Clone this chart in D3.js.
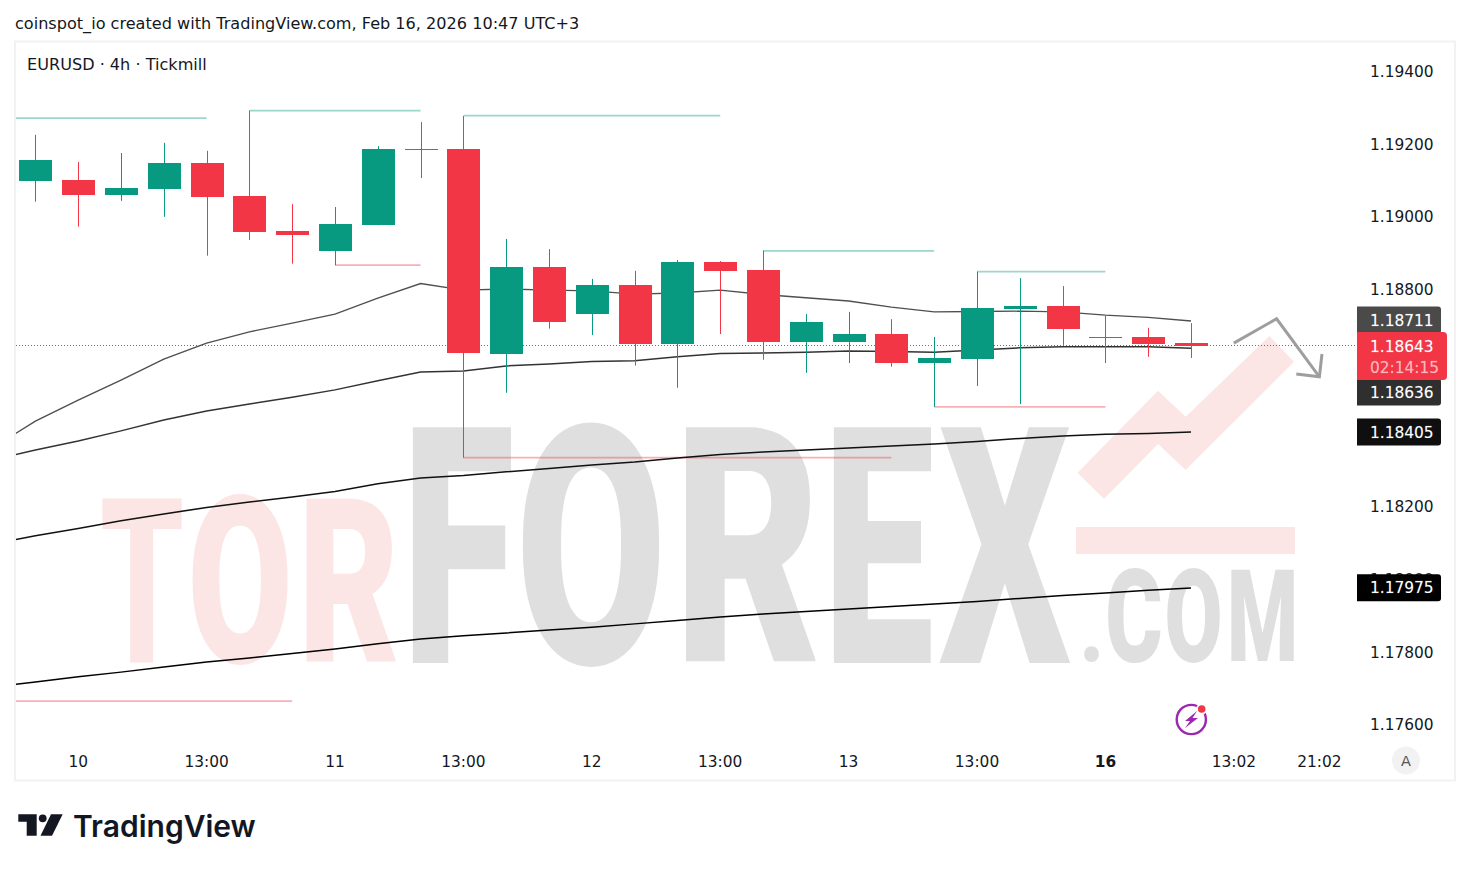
<!DOCTYPE html>
<html><head><meta charset="utf-8">
<script src="https://cdn.jsdelivr.net/npm/d3@7/dist/d3.min.js"></script>
<style>html,body{margin:0;padding:0;background:#fff}svg{display:block}</style>
</head><body><div id="chart"></div>
<script>
// ---------- data (prices x 1e5, per 4h candle) ----------
const opens  = [119097,119100,119058,119075,119146,119055,118959,118904,118975,119185,119185,118620,118860,118730,118810,118648,118874,118851,118653,118653,118675,118595,118606,118744,118752,118667,118667,118650];
const highs  = [119224,119149,119174,119202,119180,119291,119033,119025,119193,119259,119276,118937,118909,118827,118849,118879,118876,118905,118730,118736,118716,118667,118847,118829,118807,118725,118692,118705];
const lows   = [119040,118971,119042,118998,118891,118934,118869,118865,118975,119105,118334,118513,118690,118672,118588,118527,118675,118604,118568,118595,118585,118474,118532,118482,118645,118595,118612,118609];
const closes = [119155,119058,119077,119146,119053,118956,118948,118978,119185,119181,118623,118860,118708,118810,118648,118874,118849,118653,118708,118675,118595,118609,118747,118752,118689,118663,118648,118643];
// moving averages, first value is one bar before the first candle
const maA = [118361,118435,118493,118548,118606,118650,118681,118705,118730,118774,118814,118796,118799,118796,118794,118785,118788,118796,118784,118775,118766,118749,118736,118737,118738,118736,118727,118721,118711];
const maB = [118328,118355,118380,118408,118438,118463,118482,118501,118521,118546,118570,118573,118587,118592,118599,118601,118612,118621,118623,118625,118628,118627,118625,118631,118637,118640,118640,118640,118636];
const maC = [118096,118119,118139,118160,118179,118197,118212,118226,118241,118262,118278,118285,118295,118304,118314,118322,118333,118343,118350,118355,118361,118366,118372,118379,118387,118394,118399,118401,118405];
const maD = [117702,117716,117730,117743,117757,117771,117782,117794,117807,117821,117834,117843,117851,117859,117867,117876,117885,117895,117903,117910,117917,117924,117931,117938,117946,117954,117961,117969,117975];
// swing levels
const levelFrom  = [-1,5,10,17,22,7,10,21,-1];
const levelTo    = [4,9,16,21,25,9,20,25,6];
const levelPrice = [119270,119291,119277,118904,118847,118865,118334,118474,117663];
const levelKind  = ["h","h","h","h","h","l","l","l","l"];
// axes
const priceTicks = [1.194,1.192,1.19,1.188,1.182,1.18,1.178,1.176];
const timeTickIndex = [1,4,7,10,13,16,19,22,25,28,30];
const timeTickLabel = ["10","13:00","11","13:00","12","13:00","13","13:00","16","13:02","21:02"];
const lastPrice = 118643;
const maLabels = [118711,118636,118405,117975];
// drawn arrow (bar index, price)
const arrowIdx = [28,29,30], arrowPrice = [118650,118717,118557];
const headIdx = [29.46,30,30.06], headPrice = [118565,118557,118620];

const W=1470,H=871,FONT='"DejaVu Sans",sans-serif';
const GREEN='#089981',RED='#f23645';
const svg=d3.select('#chart').append('svg').attr('width',W).attr('height',H);
const x=d3.scaleLinear().domain([0,27]).range([35.4,1191]);
const y=d3.scaleLinear().domain([1.176,1.194]).range([724,71]);
const Y=v=>y(v/1e5);

// frame
svg.append('rect').attr('x',15).attr('y',41.5).attr('width',1440).attr('height',739).attr('fill','#fff').attr('stroke','#f2f2f2').attr('stroke-width',2);

// ---------- watermark ----------
const cv=document.createElement('canvas').getContext('2d');
const wm=svg.append('g');
function fit(ch,x0,x1,y0,y1,fill){
  cv.font='900 200px Roboto';const m=cv.measureText(ch);
  const iw=m.actualBoundingBoxRight+m.actualBoundingBoxLeft,ih=m.actualBoundingBoxAscent+m.actualBoundingBoxDescent;
  const sx=(x1-x0)/iw,sy=(y1-y0)/ih;
  wm.append('text').text(ch).attr('font-family','Roboto').attr('font-weight',900).attr('font-size',200).attr('fill',fill)
    .attr('transform',`translate(${x0+m.actualBoundingBoxLeft*sx},${y1-m.actualBoundingBoxDescent*sy}) scale(${sx},${sy})`);
}
const wmPink='#fbe6e5',wmGray='#dfdfdf';
fit('T',102,182,497,662,wmPink);fit('O',192,288,493,665,wmPink);fit('R',306,396,497,662,wmPink);
fit('F',412,511,426,663,wmGray);fit('O',522,660,421,667,wmGray);fit('R',685,816,426,663,wmGray);fit('E',833,931,426,663,wmGray);fit('X',939,1071,426,663,wmGray);
fit('.',1084,1099,645,661,wmGray);fit('C',1108,1161,568,663,wmGray);fit('O',1167,1220,568,663,wmGray);fit('M',1231,1294,569,661,wmGray);
wm.append('polygon').attr('fill',wmPink).attr('points','1077.5,472.7 1158,390.7 1185.7,416.7 1269.4,336 1294,361.7 1185.7,470 1158,444 1104,499');
wm.append('rect').attr('fill',wmPink).attr('x',1076).attr('y',527).attr('width',219).attr('height',27);

// ---------- plot ----------
svg.append('clipPath').attr('id','pane').append('rect').attr('x',16).attr('y',42).attr('width',1340).attr('height',710);
const pane=svg.append('g').attr('clip-path','url(#pane)');
// levels
levelPrice.forEach((p,i)=>{
  pane.append('line').attr('x1',x(levelFrom[i])).attr('x2',x(levelTo[i])).attr('y1',Y(p)).attr('y2',Y(p))
   .attr('stroke',levelKind[i]=='h'?GREEN:RED).attr('stroke-opacity',0.4).attr('stroke-width',1.7);
});
// last price
const lpY=Math.floor(Y(lastPrice))+.5;
pane.append('line').attr('x1',16).attr('x2',1356).attr('y1',lpY).attr('y2',lpY)
  .attr('stroke',RED).attr('stroke-width',1).attr('stroke-dasharray','1 2');
// moving averages
const line=d3.line().x((d,i)=>x(i-1)).y(d=>Y(d));
[[maA,'#4f4f4f',1.4],[maB,'#333',1.5],[maC,'#111',1.5],[maD,'#000',1.5]].forEach(([d,c,w])=>{
  pane.append('path').datum(d).attr('d',line).attr('fill','none').attr('stroke',c).attr('stroke-width',w);
});
// candles
const cg=pane.append('g');
opens.forEach((o,i)=>{
  const c=closes[i],col=c>=o?GREEN:RED,cx=Math.round(x(i));
  const top=Math.round(Y(Math.max(o,c))),bot=Math.round(Y(Math.min(o,c)));
  cg.append('rect').attr('x',cx).attr('width',1).attr('y',Y(highs[i])).attr('height',Y(lows[i])-Y(highs[i])).attr('fill',col);
  cg.append('rect').attr('x',cx-16).attr('width',33).attr('y',top).attr('height',Math.max(1,bot-top)).attr('fill',col);
});
// arrow
const al=d3.line().x(d=>x(d[0])).y(d=>Y(d[1]));
[[arrowIdx,arrowPrice],[headIdx,headPrice]].forEach(([a,b])=>{
  pane.append('path').attr('d',al(a.map((v,i)=>[v,b[i]]))).attr('fill','none').attr('stroke','#9e9e9e').attr('stroke-width',3).attr('stroke-linejoin','miter');
});

// ---------- axes ----------
const ya=d3.axisRight(y).tickValues(priceTicks).tickSize(0).tickPadding(0).tickFormat(d3.format('.5f'));
const yg=svg.append('g').attr('transform','translate(1370,0.7)').call(ya);
yg.select('.domain').remove();
yg.selectAll('text').attr('font-family',FONT).attr('font-size',15.4).attr('fill','#131722');
const xa=d3.axisBottom(x).tickValues(timeTickIndex).tickSize(0).tickPadding(0).tickFormat((d,i)=>timeTickLabel[i]);
const xg=svg.append('g').attr('transform','translate(-0.5,756)').call(xa);
xg.select('.domain').remove();
xg.selectAll('text').attr('font-family',FONT).attr('font-size',15.4).attr('fill','#131722')
  .attr('font-weight',d=>d===25?'bold':'normal');

// price labels (square on the left, rounded on the right)
function tag(x0,y0,w,h,r,fill){
  svg.append('path').attr('fill',fill).attr('d',`M${x0} ${y0}H${x0+w-r}Q${x0+w} ${y0} ${x0+w} ${y0+r}V${y0+h-r}Q${x0+w} ${y0+h} ${x0+w-r} ${y0+h}H${x0}Z`);
}
const labCol=['#4a4a4a','#2f2f2f','#0f0f0f','#000000'],labY=[320,392,432,587.8];
const lt=(s,yy,op)=>svg.append('text').text(s).attr('x',1370).attr('y',yy).attr('font-family',FONT).attr('font-size',15.4).attr('font-weight',500).attr('fill','#fff').attr('fill-opacity',op||1).attr('stroke','#fff').attr('stroke-opacity',(op||1)*0.35).attr('stroke-width',0.35);
maLabels.forEach((v,i)=>{
  tag(1357,labY[i]-13.5,84,27,3,labCol[i]);
  lt((v/1e5).toFixed(5),labY[i]+5.5);
});
tag(1357,332,90,48,4,RED);
lt((lastPrice/1e5).toFixed(5),351.5);
lt('02:14:15',372.5,0.65);

// A button
svg.append('circle').attr('cx',1406).attr('cy',760.5).attr('r',14).attr('fill','#f2f2f2');
svg.append('text').text('A').attr('x',1406).attr('y',766).attr('text-anchor','middle').attr('font-family',FONT).attr('font-size',14.5).attr('fill','#555');

// bolt icon
svg.append('circle').attr('cx',1191.3).attr('cy',719.5).attr('r',14.6).attr('fill','none').attr('stroke','#9c27b0').attr('stroke-width',2.4);
svg.append('polygon').attr('points','1197,711 1185,721 1190,721 1185,728 1198,718 1192.5,718').attr('fill','#9c27b0');
svg.append('circle').attr('cx',1201.7).attr('cy',709).attr('r',5.5).attr('fill','#fff');
svg.append('circle').attr('cx',1201.7).attr('cy',709).attr('r',3.8).attr('fill',RED);

// titles
svg.append('text').text('coinspot_io created with TradingView.com, Feb 16, 2026 10:47 UTC+3').attr('x',15).attr('y',29).attr('font-family',FONT).attr('font-size',16.1).attr('fill','#131722');
svg.append('text').text('EURUSD · 4h · Tickmill').attr('x',27).attr('y',70).attr('font-family',FONT).attr('font-size',16.1).attr('fill','#131722');

// TradingView logo
const lg=svg.append('g').attr('fill','#131722');
lg.append('path').attr('d','M18.3 814.3H36.7V835.7H26.7V821.7H18.3Z');
lg.append('circle').attr('cx',42.7).attr('cy',818.3).attr('r',3.9);
lg.append('path').attr('d','M51 814.3H62.7L52 835.7H40.5Z');
svg.append('text').text('TradingView').attr('x',73).attr('y',837).attr('font-family','Inter,sans-serif').attr('font-weight',600).attr('font-size',30).attr('fill','#131722');
</script></body></html>
